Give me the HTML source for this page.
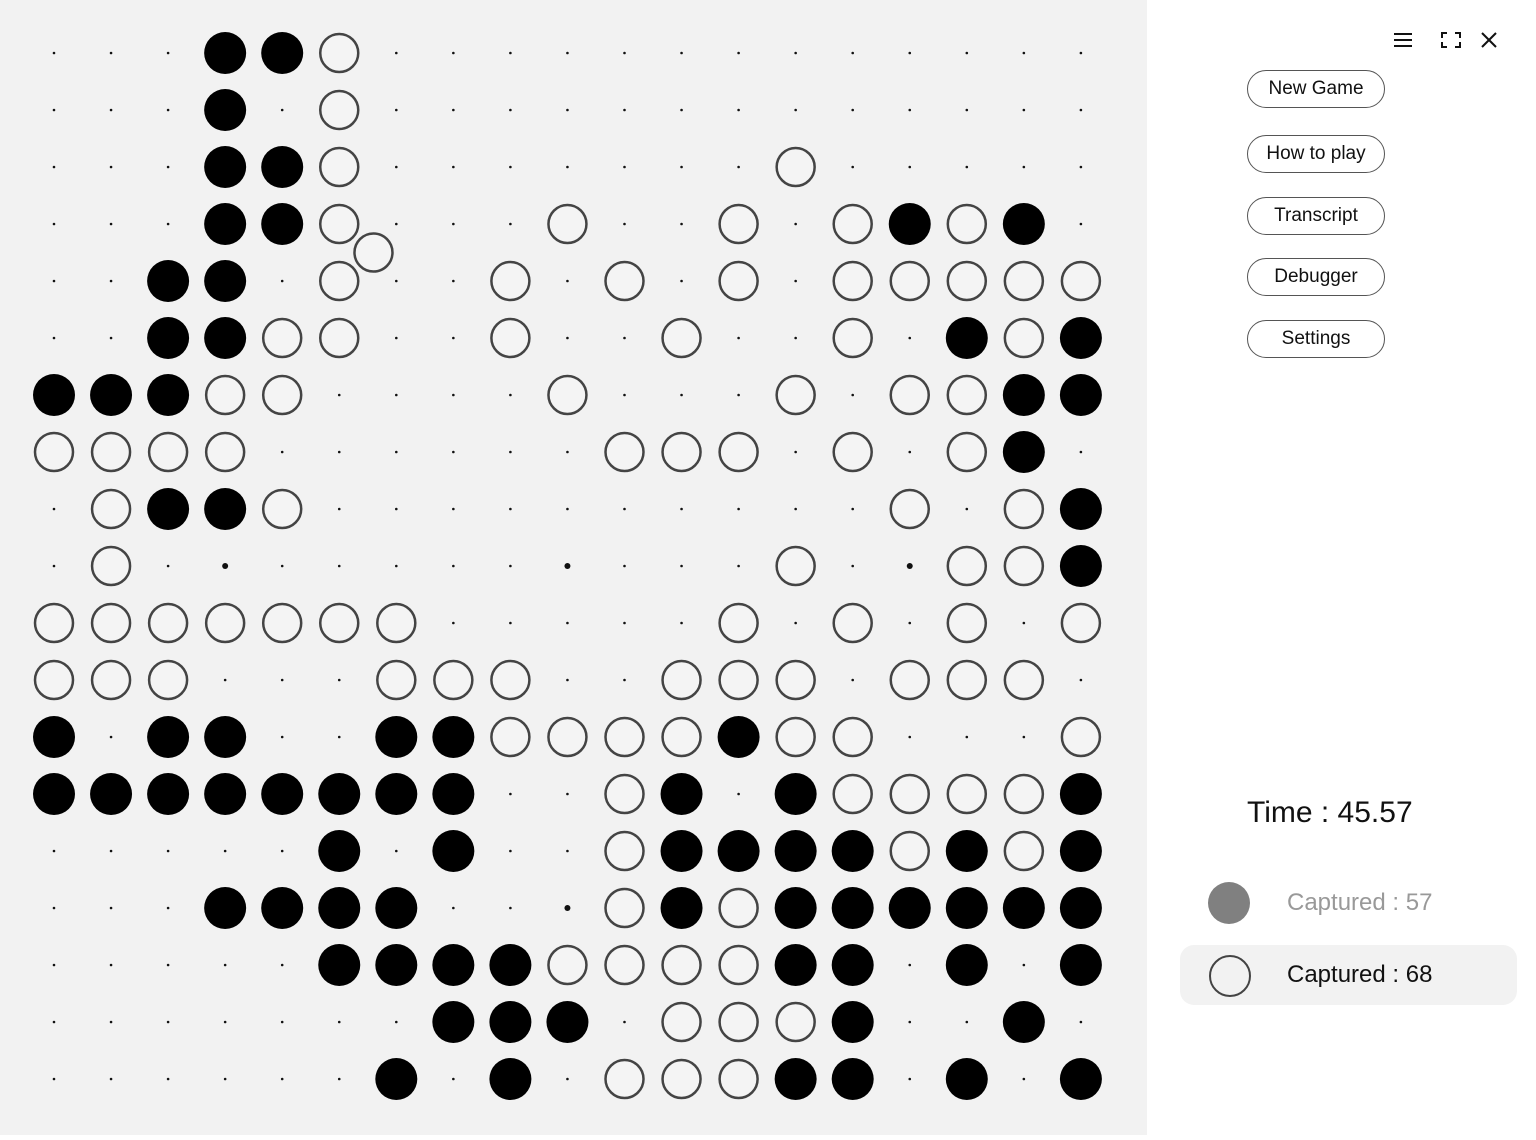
<!DOCTYPE html>
<html><head><meta charset="utf-8">
<style>
html,body{margin:0;padding:0;width:1536px;height:1135px;overflow:hidden;background:#fff;font-family:"Liberation Sans",sans-serif;}
#board{position:absolute;left:0;top:0;width:1147px;height:1135px;background:#f2f2f2;}
.btn{position:absolute;left:1247px;width:136px;height:36px;border:1px solid #555;border-radius:19px;background:#fff;font-size:19px;line-height:36px;text-align:center;color:#111;}
</style></head><body>
<div id="board">
<svg id="bsvg" width="1147" height="1135"></svg>
</div>
<svg style="position:absolute;left:1390px;top:28px" width="115" height="24">
 <g stroke="#111" stroke-width="2"><line x1="4" y1="6" x2="22" y2="6"/><line x1="4" y1="12" x2="22" y2="12"/><line x1="4" y1="18" x2="22" y2="18"/></g>
 <g stroke="#111" stroke-width="2" fill="none"><path d="M52 10V5h5M65 5h5v5M70 14v5h-5M57 19h-5v-5"/></g>
 <g stroke="#111" stroke-width="2"><line x1="92" y1="5" x2="106" y2="19"/><line x1="106" y1="5" x2="92" y2="19"/></g>
</svg>
<div class="btn" style="top:70px">New Game</div>
<div class="btn" style="top:135px">How to play</div>
<div class="btn" style="top:197px">Transcript</div>
<div class="btn" style="top:258px">Debugger</div>
<div class="btn" style="top:320px">Settings</div>
<div style="position:absolute;left:1247px;top:796px;font-size:30px;color:#111">Time : 45.57</div>
<div style="position:absolute;left:1208px;top:882px;width:42px;height:42px;border-radius:50%;background:#808080"></div>
<div style="position:absolute;left:1287px;top:889px;font-size:24px;color:#999">Captured : 57</div>
<div style="position:absolute;left:1180px;top:945px;width:337px;height:60px;border-radius:14px;background:#f2f2f2"></div>
<div style="position:absolute;left:1209px;top:955px;width:38px;height:38px;border-radius:50%;border:2px solid #444"></div>
<div style="position:absolute;left:1287px;top:961px;font-size:24px;color:#111">Captured : 68</div>
<script>
const blackStones=[[3,0],[4,0],[3,1],[3,2],[4,2],[3,3],[4,3],[15,3],[17,3],[2,4],[3,4],[2,5],[3,5],[16,5],[18,5],[0,6],[1,6],[2,6],[17,6],[18,6],[17,7],[2,8],[3,8],[18,8],[18,9],
[0,12],[2,12],[3,12],[6,12],[7,12],[12,12],[0,13],[1,13],[2,13],[3,13],[4,13],[5,13],[6,13],[7,13],[11,13],[13,13],[18,13],
[5,14],[7,14],[11,14],[12,14],[13,14],[14,14],[16,14],[18,14],[3,15],[4,15],[5,15],[6,15],[11,15],[13,15],[14,15],[15,15],[16,15],[17,15],[18,15],
[5,16],[6,16],[7,16],[8,16],[13,16],[14,16],[16,16],[18,16],[7,17],[8,17],[9,17],[14,17],[17,17],[6,18],[8,18],[13,18],[14,18],[16,18],[18,18]];
const whiteStones=[[5,0],[5,1],[5,2],[13,2],[5,3],[5.6,3.5],[9,3],[12,3],[14,3],[16,3],[5,4],[8,4],[10,4],[12,4],[14,4],[15,4],[16,4],[17,4],[18,4],
[4,5],[5,5],[8,5],[11,5],[14,5],[17,5],[3,6],[4,6],[9,6],[13,6],[15,6],[16,6],[0,7],[1,7],[2,7],[3,7],[10,7],[11,7],[12,7],[14,7],[16,7],
[1,8],[4,8],[15,8],[17,8],[1,9],[13,9],[16,9],[17,9],[0,10],[1,10],[2,10],[3,10],[4,10],[5,10],[6,10],[12,10],[14,10],[16,10],[18,10],
[0,11],[1,11],[2,11],[6,11],[7,11],[8,11],[11,11],[12,11],[13,11],[15,11],[16,11],[17,11],[8,12],[9,12],[10,12],[11,12],[13,12],[14,12],[18,12],
[10,13],[14,13],[15,13],[16,13],[17,13],[10,14],[15,14],[17,14],[10,15],[12,15],[9,16],[10,16],[11,16],[12,16],[11,17],[12,17],[13,17],[10,18],[11,18],[12,18]];
const starPoints=[[3,9],[9,9],[15,9],[9,15]];
const N=19;
const NS="http://www.w3.org/2000/svg";
const svg=document.getElementById('bsvg');
function gx(c){return 54+c*57.05;}
function gy(r){return 53+r*57;}
function mk(t,a){const e=document.createElementNS(NS,t);for(const k in a)e.setAttribute(k,a[k]);svg.appendChild(e);return e;}
for(let r=0;r<N;r++)for(let c=0;c<N;c++){
 const d=mk('circle',{cx:gx(c),cy:gy(r),r:1.3,fill:'#111'});
 
 
}
starPoints.forEach(p=>{
 const d=mk('circle',{cx:gx(p[0]),cy:gy(p[1]),r:3,fill:'#111'});
 
 
});
whiteStones.forEach(p=>{
 const s=mk('circle',{cx:gx(p[0]),cy:gy(p[1]),r:19,fill:'#f4f4f4',stroke:'#444','stroke-width':2.5});
 
 
});
blackStones.forEach(p=>{
 const s=mk('circle',{cx:gx(p[0]),cy:gy(p[1]),r:21,fill:'#000'});
 
 
});
</script>
</body></html>
